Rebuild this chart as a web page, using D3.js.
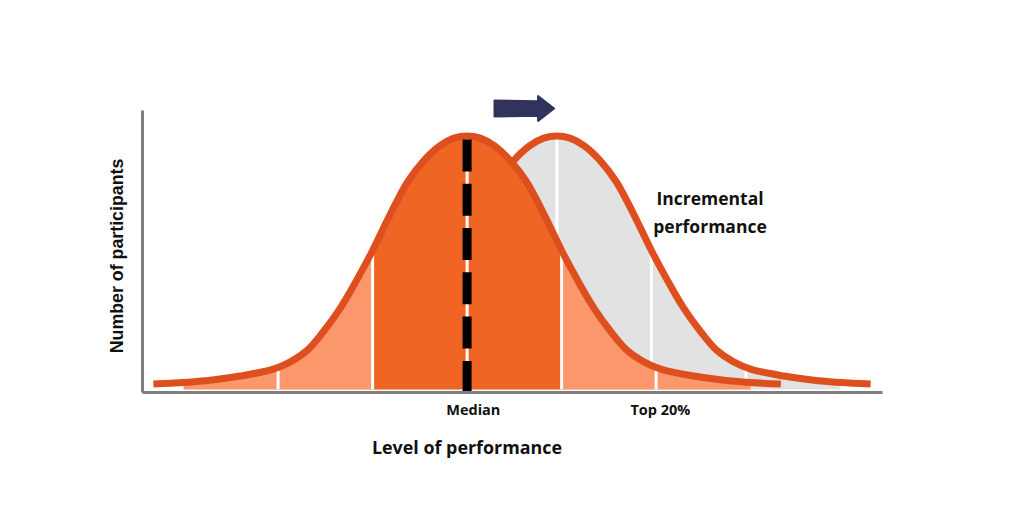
<!doctype html>
<html lang="en">
<head>
<meta charset="utf-8">
<title>Level of performance</title>
<script src="https://d3js.org/d3.v7.min.js"></script>
<style>
  body { margin: 0; background: #fff; }
</style>
</head>
<body>
<svg width="1024" height="512"></svg>
<script>
// level of performance (median = 0, one band per unit) and relative number of participants
var levels = [-3.32, -3.0, -2.7, -2.4, -2.05, -1.87, -1.69, -1.52, -1.34, -1.17, -1.0, -0.82, -0.63, -0.46, -0.29, -0.14, 0,
              0.14, 0.29, 0.46, 0.63, 0.82, 1.0, 1.17, 1.34, 1.52, 1.69, 1.87, 2.05, 2.4, 2.7, 3.0, 3.32];
var participants = [0.4, 1.0, 2.0, 3.6, 6.4, 9.3, 14, 21.5, 31, 42, 54, 68, 81.5, 90, 96, 99.1, 100,
                    99.1, 96, 90, 81.5, 68, 54, 42, 31, 21.5, 14, 9.3, 6.4, 3.6, 2.0, 1.0, 0.4];
var shift = 0.95;                 // incremental performance shift
var bandEdges = [-3, -2, -1, 0, 1, 2, 3];
var bandTypes = ["tail", "tail", "core", "core", "tail", "tail"];
var tickPos = [0.06, 2.04];
var tickLabels = ["Median", "Top 20%"];
var arrowFrom = 0.29, arrowTo = 0.92, arrowLevel = 111;

var svg = d3.select("svg");

var x = d3.scaleLinear().domain([-3.44, 4.39]).range([142, 882]);
var y = d3.scaleLinear().domain([-2.8, 110.4]).range([392, 110]);
var base = -1.8;

var pts = levels.map(function(l, i) { return {u: l, v: participants[i]}; });
var moved = pts.map(function(d) { return {u: d.u + shift, v: d.v}; });

var curve = d3.curveCatmullRom.alpha(0.5);
var line = d3.line()
    .x(function(d) { return x(d.u); })
    .y(function(d) { return y(d.v); })
    .curve(curve);
var area = d3.area()
    .x(function(d) { return x(d.u); })
    .y0(y(base))
    .y1(function(d) { return y(d.v); })
    .curve(curve);

var defs = svg.append("defs");
defs.append("clipPath").attr("id", "orig-area").append("path").attr("d", area(pts));
defs.append("clipPath").attr("id", "moved-area").append("path").attr("d", area(moved));
defs.append("clipPath").attr("id", "moved-band").append("rect")
    .attr("x", x(bandEdges[0] + shift))
    .attr("width", x(bandEdges[6] + shift) - x(bandEdges[0] + shift))
    .attr("y", 0).attr("height", 512);
bandTypes.forEach(function(t, i) {
  defs.append("clipPath").attr("id", "band" + i).append("rect")
      .attr("x", x(bandEdges[i]))
      .attr("width", x(bandEdges[i + 1]) - x(bandEdges[i]))
      .attr("y", 0).attr("height", 512);
});

// shifted curve (grey)
svg.append("path")
    .attr("d", area(moved))
    .attr("clip-path", "url(#moved-band)")
    .attr("fill", "#e2e2e2");
svg.append("g")
    .attr("clip-path", "url(#moved-area)")
  .selectAll("line")
  .data(bandEdges.slice(1, -1))
  .enter().append("line")
    .attr("x1", function(d) { return x(d + shift); })
    .attr("x2", function(d) { return x(d + shift); })
    .attr("y1", y(base)).attr("y2", y(110))
    .attr("stroke", "#fff").attr("stroke-width", 3);
svg.append("path")
    .attr("d", line(moved))
    .attr("fill", "none")
    .attr("stroke", "#de4f20")
    .attr("stroke-width", 7);

// current curve (orange bands)
svg.append("g").selectAll("path")
  .data(bandTypes)
  .enter().append("path")
    .attr("d", area(pts))
    .attr("clip-path", function(d, i) { return "url(#band" + i + ")"; })
    .attr("fill", function(d) { return d == "core" ? "#f06524" : "#fc976c"; });
svg.append("g")
    .attr("clip-path", "url(#orig-area)")
  .selectAll("line")
  .data(bandEdges.slice(1, -1))
  .enter().append("line")
    .attr("x1", function(d) { return x(d); })
    .attr("x2", function(d) { return x(d); })
    .attr("y1", y(base)).attr("y2", y(110))
    .attr("stroke", "#fff").attr("stroke-width", 3);
svg.append("path")
    .attr("d", line(pts))
    .attr("fill", "none")
    .attr("stroke", "#de4f20")
    .attr("stroke-width", 7);

// median
svg.append("line")
    .attr("x1", x(0)).attr("x2", x(0))
    .attr("y1", y(98.6)).attr("y2", y(-2.8))
    .attr("stroke", "#000")
    .attr("stroke-width", 9)
    .attr("stroke-dasharray", "32 12.3");

// axes
var xAxis = svg.append("g")
    .attr("transform", "translate(0," + y(-2.8) + ")")
    .call(d3.axisBottom(x).tickValues(tickPos)
      .tickFormat(function(d, i) { return tickLabels[i]; })
      .tickSize(0).tickPadding(13));
xAxis.select(".domain").attr("stroke", "#7f7f7f").attr("stroke-width", 3);
xAxis.selectAll("text")
    .attr("fill", "#111")
    .style("font", "bold 14.5px 'Open Sans'");

var yAxis = svg.append("g")
    .attr("transform", "translate(" + x(-3.44) + ",0)")
    .call(d3.axisLeft(y).tickValues([]).tickSize(0));
yAxis.select(".domain").attr("stroke", "#7f7f7f").attr("stroke-width", 3);

// labels
svg.append("text")
    .attr("transform", "translate(123," + 256 + ") rotate(-90)")
    .attr("text-anchor", "middle")
    .style("font", "bold 17.8px 'Liberation Sans'")
    .attr("fill", "#111")
    .text("Number of participants");
svg.append("text")
    .attr("x", 467).attr("y", 454)
    .attr("text-anchor", "middle")
    .style("font", "bold 17.9px 'Open Sans'")
    .attr("fill", "#111")
    .text("Level of performance");
var inc = svg.append("text")
    .attr("text-anchor", "middle")
    .style("font", "bold 17.5px 'Open Sans'")
    .attr("fill", "#111");
inc.append("tspan").attr("x", 710).attr("y", 205).text("Incremental");
inc.append("tspan").attr("x", 710).attr("y", 233).text("performance");

// shift arrow
var ax0 = x(arrowFrom), ax1 = x(arrowTo), ay = y(arrowLevel);
var headLen = 16, shaft = 8, head = 12.5;
svg.append("path")
    .attr("d", d3.line()([
      [ax0, ay - shaft], [ax1 - headLen, ay - shaft + 0.8], [ax1 - headLen, ay - head],
      [ax1, ay], [ax1 - headLen, ay + head], [ax1 - headLen, ay + shaft - 0.8], [ax0, ay + shaft]
    ]) + "Z")
    .attr("fill", "#32335c")
    .attr("stroke", "#32335c")
    .attr("stroke-width", 2)
    .attr("stroke-linejoin", "round");
</script>
</body>
</html>
